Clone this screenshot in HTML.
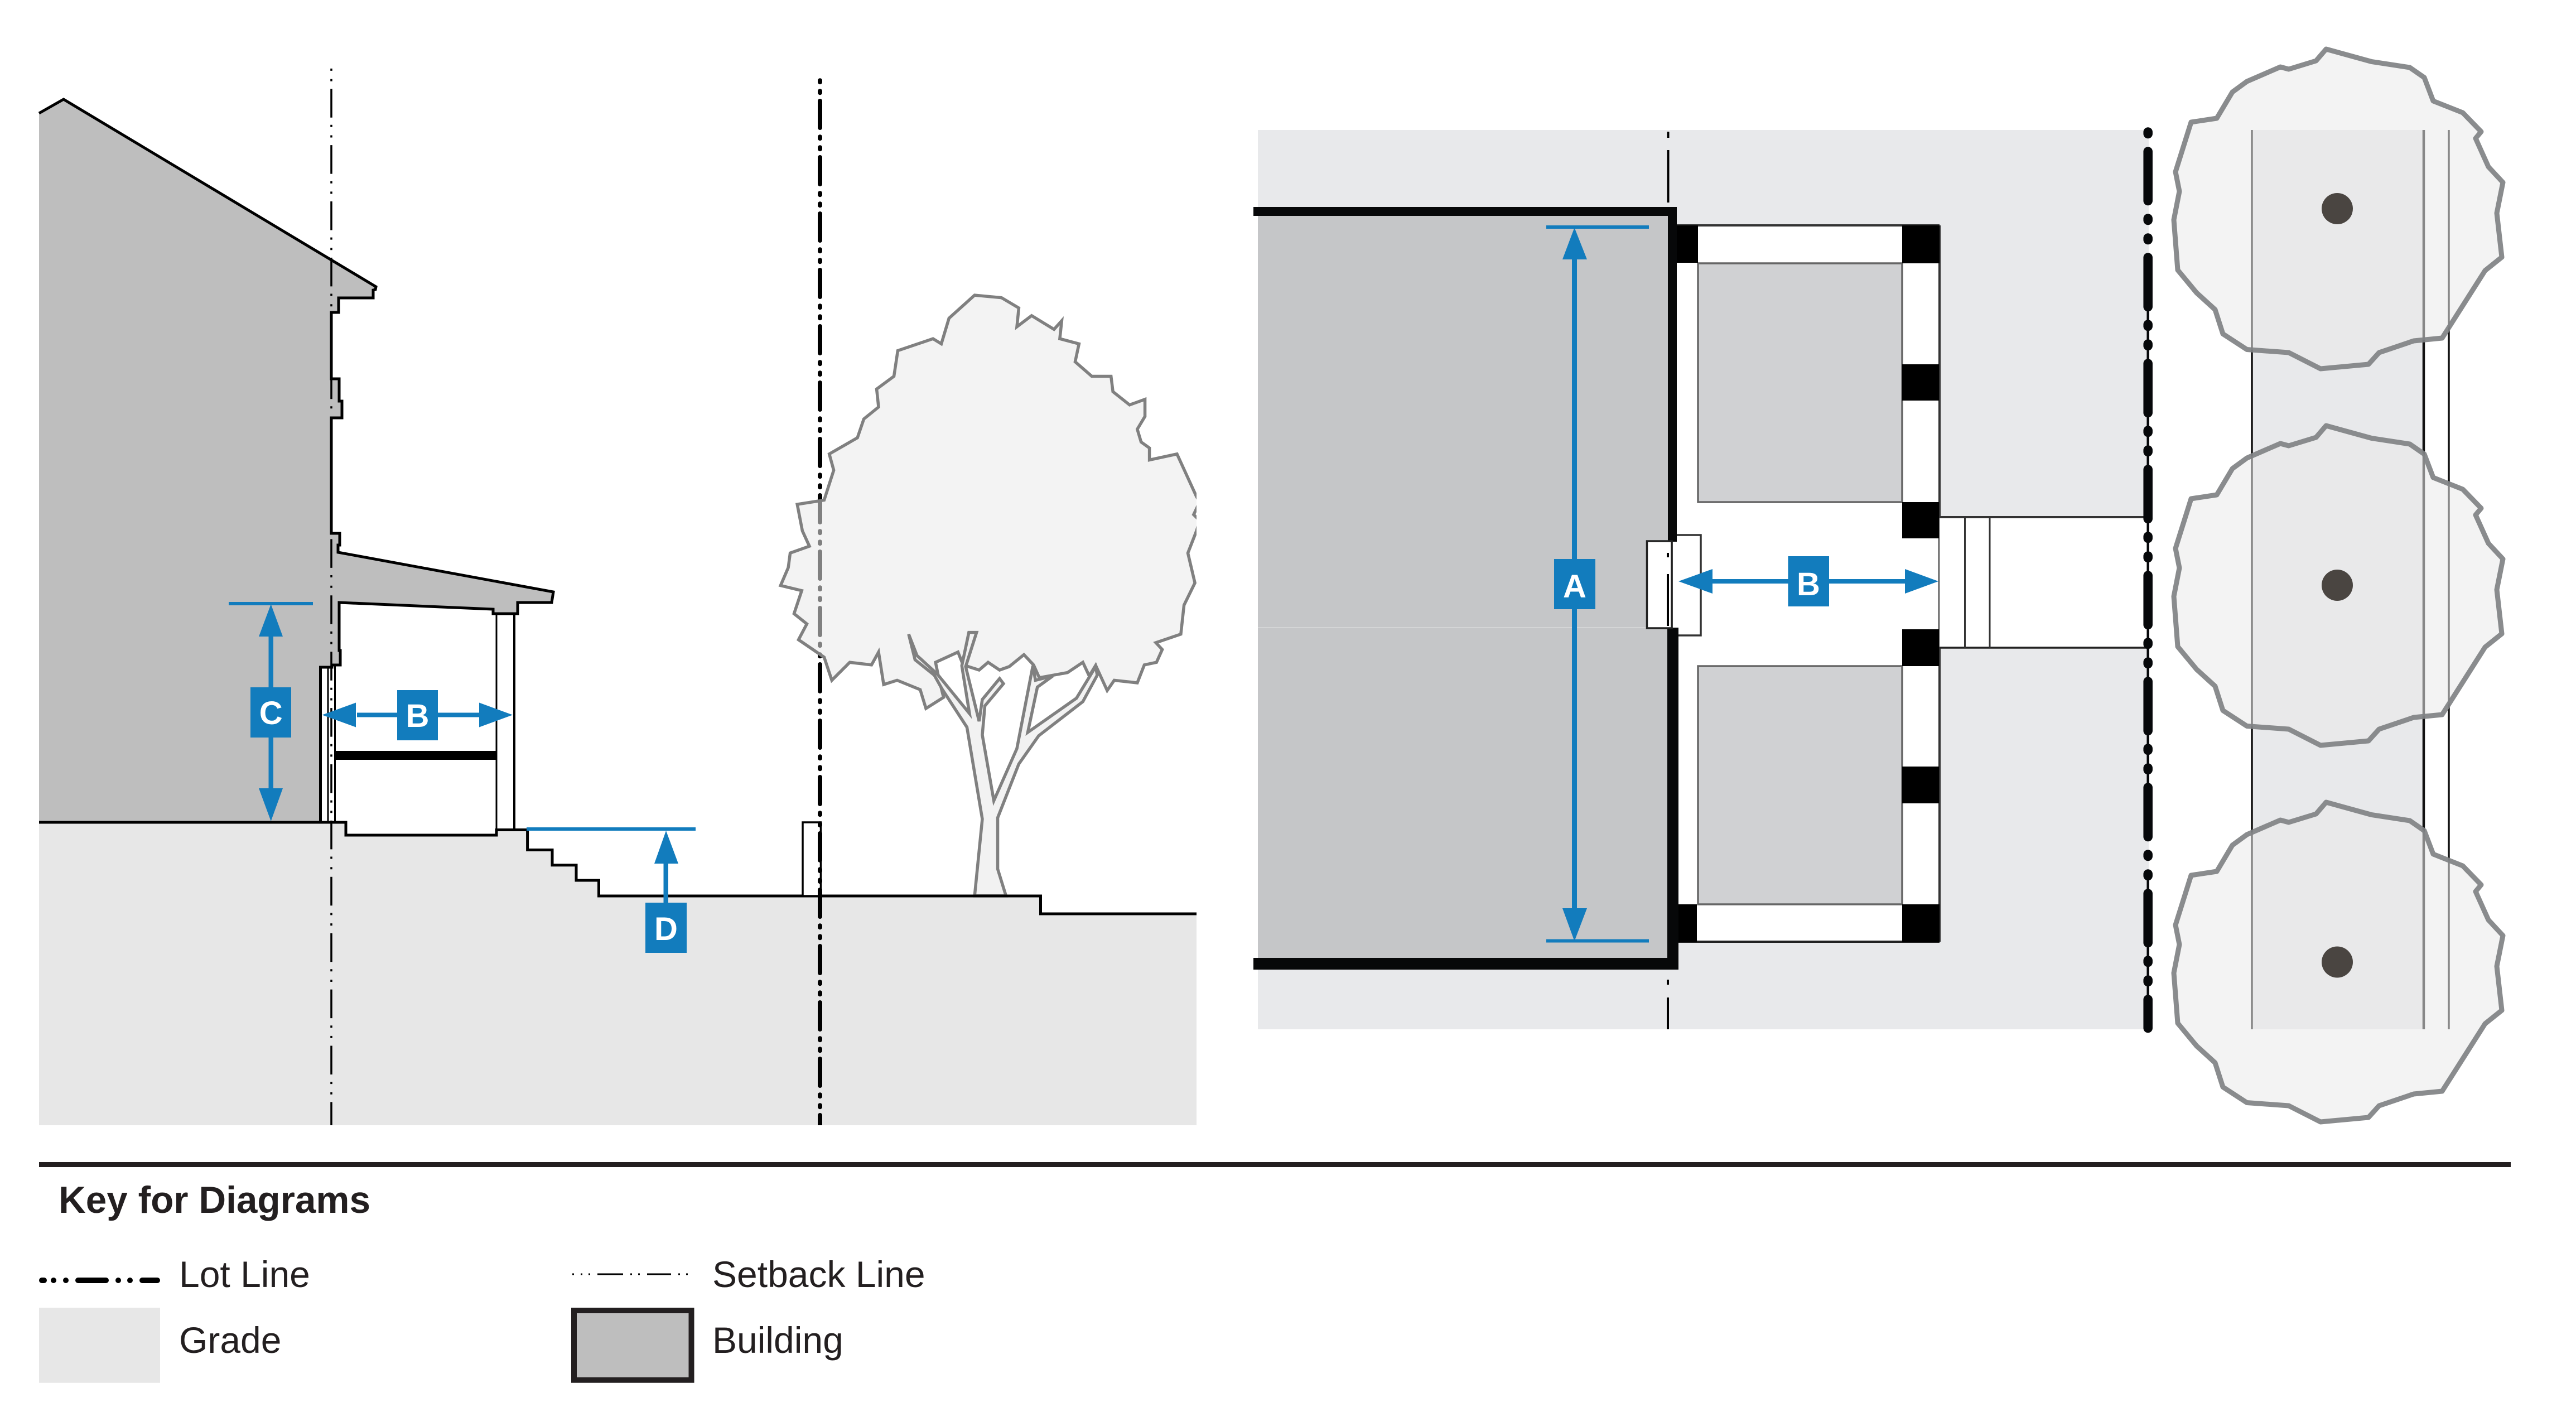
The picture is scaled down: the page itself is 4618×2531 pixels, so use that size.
<!DOCTYPE html>
<html><head><meta charset="utf-8"><title>Key for Diagrams</title>
<style>html,body{margin:0;padding:0;background:#fff}svg{display:block}text{font-family:"Liberation Sans",sans-serif}</style></head>
<body>
<svg xmlns="http://www.w3.org/2000/svg" width="4618" height="2531" viewBox="0 0 4618 2531">
<defs>
<clipPath id="c1"><rect x="0" y="0" width="2145" height="2531"/></clipPath>
<clipPath id="c2"><rect x="0" y="138" width="2145" height="1879"/></clipPath>
<clipPath id="c3"><rect x="3800" y="225" width="100" height="1630"/></clipPath>
<clipPath id="c4"><rect x="500" y="118" width="200" height="1899"/></clipPath>
</defs>
<rect width="4618" height="2531" fill="#fff"/>

<!-- SECTION -->
<polygon points="70,1474 620,1474 620,1497 890,1497 890,1487.5 945.6,1487.5 945.6,1523.5 990,1523.5 990,1550.7 1033,1550.7 1033,1578 1073.5,1578 1073.5,1606 1865.5,1606 1865.5,1638 2145,1638 2145,2017 70,2017" fill="#e7e7e7"/>
<polygon points="70,203 114,178 674,514 673,519 669,520 669,534 607,534 607,560 594,560 594,679 608,679 608,719 613,719 613,749 594,749 594,956 609,956 609,977 606,977 606,990 992,1061 989,1080 928,1080 928,1100 884,1100 884,1092 608,1080 608,1166 610,1166 610,1192 595,1192 595,1196 574.5,1196 574.5,1474 70,1474" fill="#bebebe"/>
<polyline points="70,203 114,178 674,514 673,519 669,520 669,534 607,534 607,560 594,560 594,679 608,679 608,719 613,719 613,749 594,749 594,956 609,956 609,977 606,977 606,990 992,1061 989,1080 928,1080 928,1100 884,1100 884,1092 608,1080 608,1166 610,1166 610,1192 595,1192 595,1196 574.5,1196 574.5,1474" fill="none" stroke="#000" stroke-width="5"/>
<polyline points="70,1474 620,1474 620,1497 890,1497 890,1487.5 945.6,1487.5 945.6,1523.5 990,1523.5 990,1550.7 1033,1550.7 1033,1578 1073.5,1578 1073.5,1606 1865.5,1606 1865.5,1638 2145,1638" fill="none" stroke="#000" stroke-width="5"/>
<line x1="588" y1="1196" x2="588" y2="1474" stroke="#000" stroke-width="3"/>
<line x1="600.5" y1="1192" x2="600.5" y2="1474" stroke="#000" stroke-width="3"/>
<line x1="890" y1="1100" x2="890" y2="1497" stroke="#000" stroke-width="3"/>
<line x1="922" y1="1100" x2="922" y2="1487" stroke="#000" stroke-width="4"/>
<rect x="601" y="1346" width="289" height="16" fill="#000"/>
<rect x="1439" y="1474" width="32.5" height="132" fill="#fff" stroke="#000" stroke-width="3.5"/>

<!-- setback section -->
<line x1="594" y1="58.3" x2="594" y2="2017" stroke="#000" stroke-width="3.5" stroke-dasharray="51.5 13.1 4 14.7 4 13.6" clip-path="url(#c4)"/>
<!-- lot line section -->
<line x1="1470" y1="80" x2="1470" y2="2017" stroke="#000" stroke-width="8" stroke-linecap="round" stroke-dasharray="48 16.2 3 16 3 14.8" clip-path="url(#c2)"/>

<!-- section tree -->
<g clip-path="url(#c1)">
<polygon transform="translate(1350,500) scale(.574,.7653)" fill="#e9e9e9" fill-opacity=".55" stroke="#808080" stroke-width="5.5" stroke-linejoin="miter" vector-effect="non-scaling-stroke" points="692,38 776,44 830,68 824,112 870,86 940,118 964,98 958,140 1018,152 1006,194 1058,228 1118,228 1124,264 1176,295 1224,282 1224,322 1200,352 1212,382 1238,396 1238,424 1324,410 1385,510 1395,522 1376,552 1395,566 1385,590 1358,642 1380,712 1346,764 1336,832 1258,852 1278,868 1260,898 1222,904 1200,946 1128,940 1106,964 1070,905 1050,930 1030,898 982,922 894,934 876,904 846,880 800,908 770,916 734,898 706,916 656,904 640,874 570,898 580,935 595,980 540,1006 522,962 450,940 408,950 392,874 370,904 302,898 246,940 222,886 142,845 168,808 128,784 152,730 86,718 110,676 116,642 176,626 154,590 138,528 222,518 252,448 238,410 326,372 346,328 392,300 386,258 440,228 452,168 562,140 588,152 612,92"/>
<polygon transform="translate(1350,500) scale(.574,.7653)" fill="#f2f2f2" stroke="#808080" stroke-width="5.5" vector-effect="non-scaling-stroke" points="692,1445 716,1265 668,1050 590,960 566,928 506,892 486,832 512,882 576,926 676,1018 652,906 674,828 698,828 664,908 706,1036 716,985 770,936 782,948 724,1000 716,1068 752,1222 824,1100 874,906 882,940 936,930 888,956 858,1062 1010,982 1070,908 1075,928 1030,990 892,1070 830,1136 764,1262 764,1382 790,1445"/>
</g>
<line x1="1735" y1="1606" x2="1865.5" y2="1606" stroke="#000" stroke-width="5"/>

<!-- section dimensions -->
<g fill="#127cbd" stroke="none">
<rect x="410" y="1079" width="151" height="6"/>
<rect x="481.5" y="1140" width="8.5" height="274"/>
<polygon points="485.7,1083 507,1141 464,1141"/>
<polygon points="485.7,1472 507,1413 464,1413"/>
<rect x="449" y="1232" width="73" height="90"/>
<rect x="640" y="1277.5" width="220" height="8"/>
<polygon points="577.5,1281.5 638,1259.5 638,1303.5"/>
<polygon points="919,1281.5 859,1259.5 859,1303.5"/>
<rect x="712" y="1237" width="73" height="90"/>
<rect x="944" y="1483" width="303" height="6"/>
<rect x="1189.5" y="1545" width="8.5" height="75"/>
<polygon points="1194,1489 1216,1548 1173,1548"/>
<rect x="1157" y="1618" width="74" height="90"/>
</g>
<g fill="#fff" font-weight="700" font-size="58" text-anchor="middle">
<text x="485.7" y="1298">C</text>
<text x="748.5" y="1303">B</text>
<text x="1194" y="1685">D</text>
</g>

<!-- PLAN -->
<rect x="2255" y="233" width="1597" height="1612" fill="#e8e9eb"/>
<rect x="4037" y="233" width="308" height="1612" fill="#e8e9eb"/>
<rect x="2255" y="387" width="735" height="1330" fill="#c5c6c8"/>
<rect x="2255" y="1124" width="697" height="2" fill="#d4d5d6"/>
<rect x="3006" y="404" width="471" height="1284" fill="#fff"/>
<rect x="2997" y="959" width="52" height="180" fill="#fff" stroke="#333" stroke-width="3.5"/>
<rect x="3044" y="472" width="366" height="428" fill="#d0d1d3" stroke="#666" stroke-width="3.5"/>
<rect x="3044" y="1194" width="366" height="427" fill="#d0d1d3" stroke="#666" stroke-width="3.5"/>
<line x1="3006" y1="404" x2="3477" y2="404" stroke="#333" stroke-width="4"/>
<line x1="3009" y1="1688" x2="3477" y2="1688" stroke="#222" stroke-width="4"/>
<line x1="3477" y1="404" x2="3477" y2="1688" stroke="#333" stroke-width="4"/>
<rect x="3477" y="926" width="373" height="235" fill="#fff"/>
<line x1="3477" y1="927" x2="3850" y2="927" stroke="#333" stroke-width="4"/>
<line x1="3477" y1="1161" x2="3850" y2="1161" stroke="#222" stroke-width="3.5"/>
<line x1="3522.5" y1="926" x2="3522.5" y2="1161" stroke="#333" stroke-width="3"/>
<line x1="3567" y1="926" x2="3567" y2="1161" stroke="#333" stroke-width="3"/>
<g fill="#000">
<rect x="3006" y="404" width="38" height="67"/>
<rect x="3410" y="404" width="67" height="68"/>
<rect x="3410" y="653" width="66" height="65"/>
<rect x="3410" y="900" width="66" height="65"/>
<rect x="3410" y="1128" width="66" height="66"/>
<rect x="3410" y="1374" width="66" height="66"/>
<rect x="3410" y="1621" width="67" height="68"/>
<rect x="3009" y="1621" width="33" height="68"/>
</g>
<g fill="#070809">
<rect x="2247" y="371" width="759" height="16"/>
<rect x="2990" y="371" width="16" height="600"/>
<rect x="2989" y="1125" width="20" height="612"/>
<rect x="2247" y="1717" width="762" height="21"/>
</g>
<rect x="2952.5" y="970" width="44.5" height="156" fill="#fff" stroke="#222" stroke-width="3.5"/>
<g fill="#000">
<rect x="2988.5" y="236" width="4" height="11"/>
<rect x="2988.5" y="269" width="4" height="94"/>
<rect x="2988" y="1756" width="4" height="9"/>
<rect x="2988" y="1788" width="4" height="57"/>
<rect x="2988" y="991" width="4" height="8"/>
<rect x="2988" y="1029" width="4" height="93"/>
</g>
<!-- lot line plan -->
<line x1="3850.7" y1="81.5" x2="3850.7" y2="1843" stroke="#06080a" stroke-width="16.5" stroke-linecap="round" stroke-dasharray="88.5 31.5 3.5 31.5 3.5 31.5" clip-path="url(#c3)"/>
<line x1="3850.7" y1="557" x2="3850.7" y2="1505" stroke="#06080a" stroke-width="4.5"/>
<line x1="3850.7" y1="1567" x2="3850.7" y2="1784" stroke="#06080a" stroke-width="4.5"/>
<!-- road lines -->
<line x1="4037" y1="233" x2="4037" y2="1845" stroke="#111" stroke-width="3.5"/>
<line x1="4345" y1="233" x2="4345" y2="1845" stroke="#111" stroke-width="4.5"/>
<line x1="4390" y1="233" x2="4390" y2="1845" stroke="#111" stroke-width="3.5"/>
<!-- plan trees -->
<g fill="#e9e9ea" fill-opacity=".55" stroke="#808284" stroke-opacity=".92" stroke-width="9" stroke-linejoin="round">
<polygon id="pt" points="4170,88 4252,110.6 4320,121 4346,139 4362,181 4415,202 4448,236 4438,248 4461,299 4487,327 4476,382 4485,461 4455,485 4378,606 4327,611 4265,632 4246,653 4160,661 4103,632 4028,626.5 3985,598.5 3971,555 3938,525 3904,484 3897,394 3907,343 3900,308 3928,219 3974,212 4002,165 4028,146 4088,120 4103,124 4152,109"/>
<polygon transform="translate(0,675)" points="4170,88 4252,110.6 4320,121 4346,139 4362,181 4415,202 4448,236 4438,248 4461,299 4487,327 4476,382 4485,461 4455,485 4378,606 4327,611 4265,632 4246,653 4160,661 4103,632 4028,626.5 3985,598.5 3971,555 3938,525 3904,484 3897,394 3907,343 3900,308 3928,219 3974,212 4002,165 4028,146 4088,120 4103,124 4152,109"/>
<polygon transform="translate(0,1350)" points="4170,88 4252,110.6 4320,121 4346,139 4362,181 4415,202 4448,236 4438,248 4461,299 4487,327 4476,382 4485,461 4455,485 4378,606 4327,611 4265,632 4246,653 4160,661 4103,632 4028,626.5 3985,598.5 3971,555 3938,525 3904,484 3897,394 3907,343 3900,308 3928,219 3974,212 4002,165 4028,146 4088,120 4103,124 4152,109"/>
</g>
<g fill="#4a4541">
<circle cx="4190" cy="374" r="28"/>
<circle cx="4190" cy="1049" r="28"/>
<circle cx="4190" cy="1724.5" r="28"/>
</g>
<!-- plan dimensions -->
<g fill="#127cbd" stroke="none">
<rect x="2772" y="404" width="184" height="6"/>
<rect x="2772" y="1683.5" width="184" height="6"/>
<rect x="2818" y="465" width="9" height="1165"/>
<polygon points="2822.5,408 2845,465 2801,465"/>
<polygon points="2822.5,1687 2845,1628 2801,1628"/>
<rect x="2786" y="1002" width="74" height="90"/>
<rect x="3070" y="1038" width="346" height="8"/>
<polygon points="3009,1042 3070,1020 3070,1064"/>
<polygon points="3475,1042 3415,1020 3415,1064"/>
<rect x="3205.5" y="997" width="73.5" height="90"/>
</g>
<g fill="#fff" font-weight="700" font-size="58" text-anchor="middle">
<text x="2823" y="1071">A</text>
<text x="3242" y="1067">B</text>
</g>

<!-- KEY -->
<rect x="70" y="2083" width="4431" height="9" fill="#231f20"/>
<g fill="#231f20">
<text x="105" y="2174" font-size="67.5" font-weight="700" textLength="559" lengthAdjust="spacingAndGlyphs">Key for Diagrams</text>
<text x="321" y="2307" font-size="66">Lot Line</text>
<text x="1277" y="2307" font-size="66">Setback Line</text>
<text x="321" y="2425" font-size="66">Grade</text>
<text x="1277" y="2425" font-size="66">Building</text>
</g>
<g stroke="#000" stroke-width="10" stroke-linecap="round" fill="none">
<path d="M75 2295H79M96 2295h.01M118 2295h.01M140 2295H190M212 2295h.01M233 2295h.01M255 2295H282"/>
</g>
<g stroke="#000" stroke-width="3" fill="none">
<path d="M1026 2284h3M1041 2284h3M1055 2284h3M1071 2284h46M1130 2284h3M1144 2284h3M1160 2284h43M1216 2284h3M1230 2284h3"/>
</g>
<rect x="70" y="2344" width="217" height="134.7" fill="#e7e7e7"/>
<rect x="1029" y="2349" width="210.5" height="124.7" fill="#bebebe" stroke="#231f20" stroke-width="10"/>
</svg>
</body></html>
